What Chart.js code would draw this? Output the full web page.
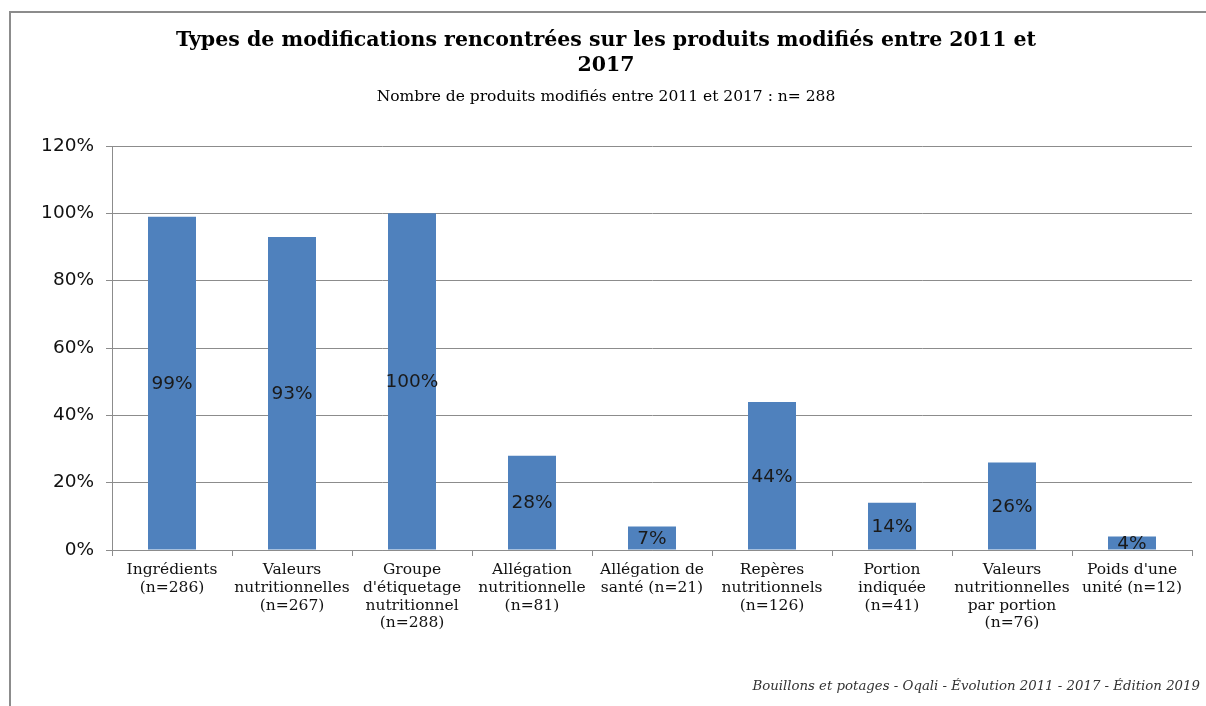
<!DOCTYPE html>
<html>
<head>
<meta charset="utf-8">
<script src="https://cdn.jsdelivr.net/npm/chart.js@4.4.1/dist/chart.umd.min.js"></script>
<style>
  html, body { margin: 0; padding: 0; background: #ffffff; }
  #wrap { position: relative; width: 1206px; height: 706px; overflow: hidden; background: #fff; }
  #c { position: absolute; left: 0; top: 0; }
  #frameTop { position: absolute; left: 9px; top: 11px; width: 1197px; height: 2px; background: #8c8c8c; }
  #frameLeft { position: absolute; left: 9px; top: 11px; width: 2px; height: 695px; background: #8c8c8c; }
  #footer { position: absolute; right: 6px; top: 678px; font-family: "DejaVu Serif", serif; font-style: italic; font-size: 13.3px; color: #333; white-space: nowrap; }
</style>
</head>
<body>
<div id="wrap">
  <canvas id="c" width="1206" height="706"></canvas>
  <div id="frameTop"></div>
  <div id="frameLeft"></div>
  <div id="footer">Bouillons et potages - Oqali - Évolution 2011 - 2017 - Édition 2019</div>
</div>
<script>
const titleLines = ['Types de modifications rencontrées sur les produits modifiés entre 2011 et', '2017'];
const subtitleText = 'Nombre de produits modifiés entre 2011 et 2017 : n= 288';
const categories = [
  ['Ingrédients', '(n=286)'],
  ['Valeurs', 'nutritionnelles', '(n=267)'],
  ['Groupe', "d'étiquetage", 'nutritionnel', '(n=288)'],
  ['Allégation', 'nutritionnelle', '(n=81)'],
  ['Allégation de', 'santé (n=21)'],
  ['Repères', 'nutritionnels', '(n=126)'],
  ['Portion', 'indiquée', '(n=41)'],
  ['Valeurs', 'nutritionnelles', 'par portion', '(n=76)'],
  ["Poids d'une", 'unité (n=12)']
];
const percentValues = [99, 93, 100, 28, 7, 44, 14, 26, 4];
const yTickMax = 120;
const yTickStep = 20;

const barLabelPlugin = {
  id: 'barLabels',
  afterDatasetsDraw(chart) {
    const ctx = chart.ctx;
    const meta = chart.getDatasetMeta(0);
    ctx.save();
    ctx.font = '18.5px "DejaVu Sans", sans-serif';
    ctx.fillStyle = '#1a1a1a';
    ctx.textAlign = 'center';
    ctx.textBaseline = 'middle';
    meta.data.forEach((bar, i) => {
      const v = chart.data.datasets[0].data[i];
      const cy = (bar.y + bar.base) / 2;
      ctx.fillText(v + '%', bar.x, cy + 1);
    });
    ctx.restore();
  }
};

new Chart(document.getElementById('c'), {
  type: 'bar',
  data: {
    labels: categories,
    datasets: [{
      data: percentValues,
      backgroundColor: '#4f81bd',
      borderWidth: 0,
      barPercentage: 0.4,
      categoryPercentage: 1.0
    }]
  },
  options: {
    responsive: false,
    animation: false,
    devicePixelRatio: 1,
    layout: { padding: { left: 20, right: 14, top: 0, bottom: 0 } },
    plugins: {
      legend: { display: false },
      tooltip: { enabled: false },
      title: {
        display: true,
        text: titleLines,
        color: '#000',
        font: { family: '"DejaVu Serif", serif', size: 20.5, weight: 'bold', lineHeight: 1.23 },
        padding: { top: 28, bottom: 3 }
      },
      subtitle: {
        display: true,
        text: subtitleText,
        color: '#000',
        font: { family: '"DejaVu Serif", serif', size: 15.5, lineHeight: 1.2 },
        padding: { top: 6, bottom: 40 }
      }
    },
    scales: {
      x: {
        offset: true,
        grid: { offset: true, drawOnChartArea: false, drawTicks: true, tickLength: 6, color: '#8c8c8c' },
        border: { display: true, color: '#8c8c8c', width: 1 },
        ticks: {
          color: '#111',
          font: { family: '"DejaVu Serif", serif', size: 15.5, lineHeight: 1.15 },
          padding: 5,
          maxRotation: 0,
          autoSkip: false
        },
        afterFit(scale) { scale.height = 156; }
      },
      y: {
        min: 0,
        max: yTickMax,
        grid: { color: '#8c8c8c', drawTicks: true, tickLength: 6 },
        border: { display: true, color: '#8c8c8c', width: 1 },
        ticks: {
          stepSize: yTickStep,
          color: '#111',
          font: { family: '"DejaVu Sans", sans-serif', size: 18.5 },
          padding: 12,
          callback: (v) => v + '%'
        },
        afterFit(scale) { scale.width = 92; }
      }
    }
  },
  plugins: [barLabelPlugin]
});
</script>
</body>
</html>
